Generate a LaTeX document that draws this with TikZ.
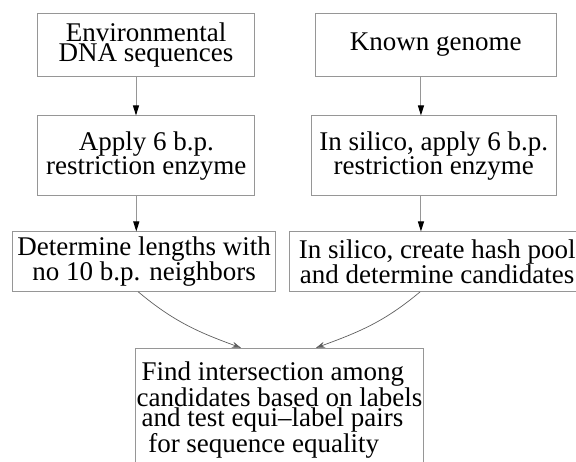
\documentclass[tikz,border=0pt]{standalone}
\usepackage{fontspec}
\setmainfont{Liberation Serif}
\newfontfamily\timesfont{Liberation Serif}
\usetikzlibrary{positioning, calc, arrows.meta}
\definecolor{boxgray}{RGB}{150,150,150}
\definecolor{curvegray}{RGB}{95,95,95}
\tikzstyle{Box} = [
rectangle, draw=boxgray, line width=1pt,
inner sep=0pt, align=center,
font=\timesfont\fontsize{27}{20.5}\selectfont]
\tikzstyle{Arrow} = [
draw=boxgray, line width=1pt,
-{Triangle[length=10pt, width=6pt, color=black]}]
\tikzstyle{Curve} = [
draw=curvegray, line width=0.7pt,
-{Stealth[length=9pt, width=6pt, inset=3pt, color=curvegray]}]

\begin{document}
\begin{tikzpicture}[x=1pt, y=1pt]
    \useasboundingbox (0,0) rectangle (576,461);
    \clip (0,0) rectangle (576,461);
    \node [Box, minimum width=216.6pt, minimum height=63.4pt] (1) at (146,416) {Environmental\\DNA sequences};
    \node [Box, minimum width=241.3pt, minimum height=63.4pt, right =59.7pt of 1] (2) {Known genome};
    \node [Box, minimum width=217.3pt, minimum height=80pt, below =38.3pt of 1, xshift=0.3pt] (3) {Apply 6 b.p.\\restriction enzyme};
    \node [Box, minimum width=245.3pt, minimum height=80pt, below =38.3pt of 2, xshift=-2pt] (4) {In silico, apply 6 b.p.\\restriction enzyme};
    \node [Box, minimum width=263pt, minimum height=59.3pt, below =35pt of 3, xshift=-2.1pt] (5) {Determine lengths with\\no 10 b.p. neighbors};
    \node [Box, minimum width=295.7pt, minimum height=59.3pt, below =35pt of 4, xshift=3.5pt] (6) {In silico, create hash pool\\and determine candidates};
    \node [Box, minimum width=287.6pt, minimum height=123.4pt, align=left] (7) at (279.5,51) {\hspace*{5pt}Find intersection among\\candidates based on labels\\\hspace*{5pt}and test equi–label pairs\\\hspace*{11.6pt}for sequence equality};
    \draw [Arrow] ([xshift=-10pt]1.south) -- ([xshift=-10pt]1.south |- 3.north);
    \draw [Arrow] ([xshift=-10pt]3.south) -- ([xshift=-10pt]3.south |- 5.north);
    \draw [Arrow] ([xshift=-14.7pt]2.south) -- ([xshift=-14.7pt]2.south |- 4.north);
    \draw [Arrow] ([xshift=-12.7pt]4.south) -- ([xshift=-12.7pt]4.south |- 6.north);
    \draw [Curve] ([xshift=-6pt]5.south) to [out=-40, in=160] ([xshift=-38.5pt]7.north);
    \draw [Curve] ([xshift=-17pt]6.south) to [out=-140, in=20] ([xshift=36.5pt]7.north);
\end{tikzpicture}
\end{document}
